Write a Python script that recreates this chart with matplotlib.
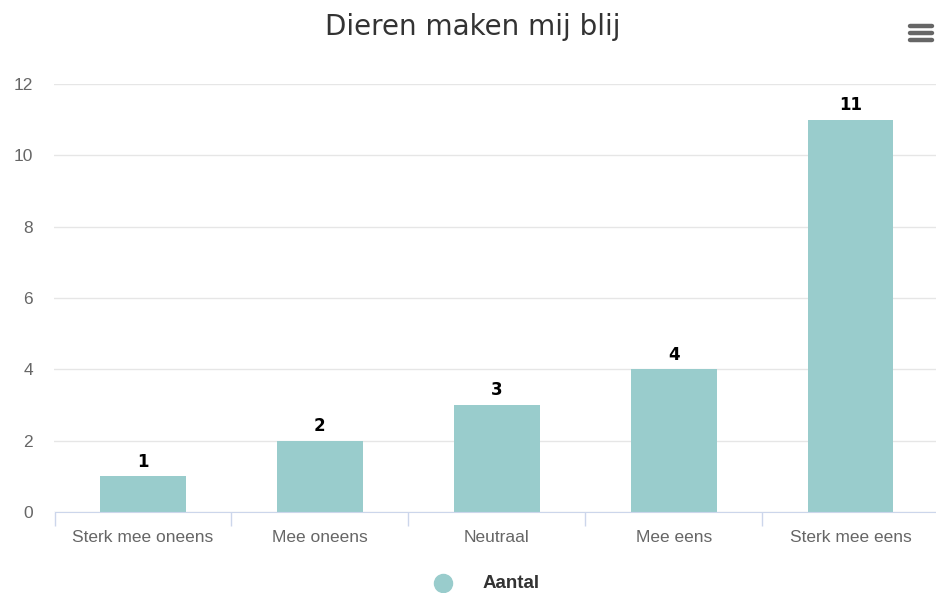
import matplotlib.pyplot as plt
from matplotlib.lines import Line2D
import numpy as np

categories = ["Sterk mee oneens", "Mee oneens", "Neutraal", "Mee eens", "Sterk mee eens"]
counts = [1, 2, 3, 4, 11]
series_name = "Aantal"
title = "Dieren maken mij blij"
y_ticks = [0, 2, 4, 6, 8, 10, 12]

BAR_COLOR = "#99cccc"
GRID_COLOR = "#e6e6e6"
AXIS_COLOR = "#ccd6eb"
LABEL_COLOR = "#666666"

fig = plt.figure(figsize=(9.37, 5.93), dpi=100)
ax = fig.add_axes([54.5 / 937, 1 - 512 / 593, 884.5 / 937, (512 - 84) / 593])

x = np.arange(len(categories))
ax.bar(x, counts, width=0.485, color=BAR_COLOR, zorder=3)
for xi, v in zip(x, counts):
    ax.annotate(str(v), (xi, v), xytext=(0, 4), textcoords="offset points",
                ha="center", va="bottom", fontsize=12, fontweight="bold",
                family="DejaVu Sans", color="black")

ax.set_xlim(-0.5, len(categories) - 0.5)
ax.set_ylim(0, 12)
ax.set_yticks(y_ticks)
ax.yaxis.grid(True, color=GRID_COLOR, linewidth=1, zorder=0)
ax.tick_params(axis="y", length=0, pad=15.5, labelsize=12.5, labelcolor=LABEL_COLOR)
for lab in ax.get_yticklabels():
    lab.set_family("Liberation Sans")

ax.set_xticks(x)
ax.set_xticklabels(categories, fontsize=12.5, color=LABEL_COLOR, family="Liberation Sans")
ax.tick_params(axis="x", which="major", length=0, pad=13)
ax.set_xticks(np.arange(-0.5, len(categories) - 0.5, 1.0), minor=True)
ax.tick_params(axis="x", which="minor", length=10, color=AXIS_COLOR, width=1)

for side in ["top", "right", "left"]:
    ax.spines[side].set_visible(False)
ax.spines["bottom"].set_color(AXIS_COLOR)
ax.spines["bottom"].set_zorder(4)

fig.text(473 / 937, 1 - 27 / 593, title, ha="center", va="center",
         fontsize=20, color="#333333", family="DejaVu Sans")

# legend
fig.add_artist(Line2D([443 / 937], [1 - 583 / 593], marker="o", markersize=13,
                      color=BAR_COLOR, linestyle="none", transform=fig.transFigure))
fig.text(483 / 937, 1 - 583 / 593, series_name, ha="left", va="center",
         fontsize=13.5, fontweight="bold", color="#333333", family="Liberation Sans")

# menu icon
for yy in [26, 33, 40]:
    fig.add_artist(Line2D([910 / 937, 932 / 937], [1 - yy / 593] * 2, color="#666666",
                          linewidth=3.2, solid_capstyle="round", transform=fig.transFigure))

fig.savefig("out.png", dpi=100)
